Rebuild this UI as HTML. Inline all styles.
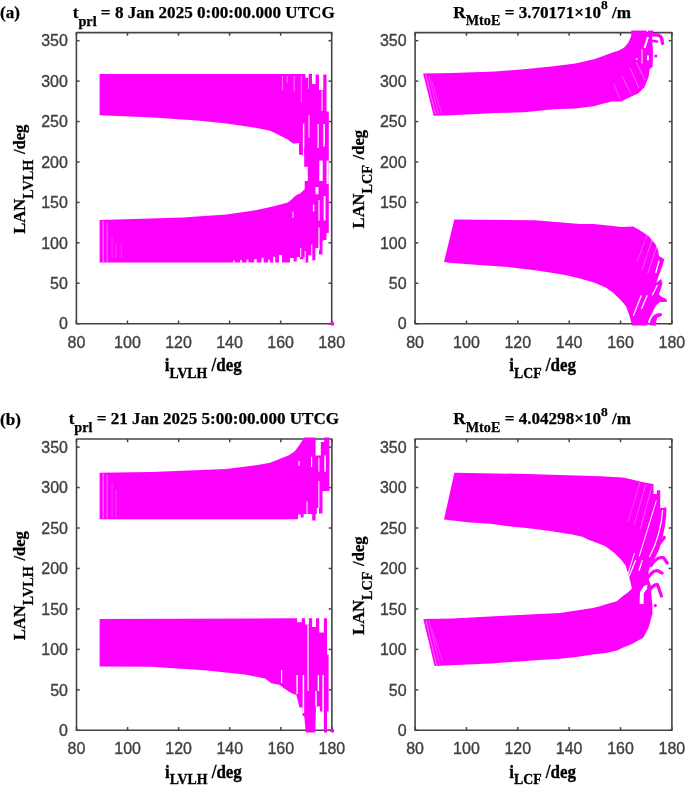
<!DOCTYPE html>
<html><head><meta charset="utf-8"><style>
html,body{margin:0;padding:0;background:#fff;}
body{width:685px;height:785px;overflow:hidden;}
svg{display:block;will-change:transform;filter:blur(0.35px);}
.tk{font-family:"Liberation Sans",sans-serif;font-size:16px;fill:#404040;stroke:#404040;stroke-width:0.35px;}
.lab{font-family:"Liberation Serif",serif;font-weight:bold;font-size:17px;fill:#000;stroke:#000;stroke-width:0.3px;}
.sub{font-size:13.8px;}
.ylab{font-size:16.6px;}
.ysub{font-size:14.2px;}
.ttl{font-family:"Liberation Serif",serif;font-weight:bold;font-size:17.1px;fill:#000;stroke:#000;stroke-width:0.25px;}
.tsub{font-size:14.2px;}
.tsup{font-size:13.5px;}
</style></head><body>
<svg width="685" height="785" viewBox="0 0 685 785">
<rect x="76.4" y="32.6" width="255.29999999999998" height="291.09999999999997" fill="none" stroke="#454545" stroke-width="1.6" stroke-linejoin="round"/>
<line x1="76.4" y1="323.7" x2="76.4" y2="320.5" stroke="#454545" stroke-width="1.5"/>
<line x1="76.4" y1="32.6" x2="76.4" y2="35.800000000000004" stroke="#454545" stroke-width="1.5"/>
<g transform="translate(0,347.7) scale(1,1.04) translate(0,-347.7)"><text x="76.4" y="347.7" class="tk" text-anchor="middle">80</text></g>
<line x1="127.46000000000001" y1="323.7" x2="127.46000000000001" y2="320.5" stroke="#454545" stroke-width="1.5"/>
<line x1="127.46000000000001" y1="32.6" x2="127.46000000000001" y2="35.800000000000004" stroke="#454545" stroke-width="1.5"/>
<g transform="translate(0,347.7) scale(1,1.04) translate(0,-347.7)"><text x="127.46000000000001" y="347.7" class="tk" text-anchor="middle">100</text></g>
<line x1="178.52" y1="323.7" x2="178.52" y2="320.5" stroke="#454545" stroke-width="1.5"/>
<line x1="178.52" y1="32.6" x2="178.52" y2="35.800000000000004" stroke="#454545" stroke-width="1.5"/>
<g transform="translate(0,347.7) scale(1,1.04) translate(0,-347.7)"><text x="178.52" y="347.7" class="tk" text-anchor="middle">120</text></g>
<line x1="229.57999999999998" y1="323.7" x2="229.57999999999998" y2="320.5" stroke="#454545" stroke-width="1.5"/>
<line x1="229.57999999999998" y1="32.6" x2="229.57999999999998" y2="35.800000000000004" stroke="#454545" stroke-width="1.5"/>
<g transform="translate(0,347.7) scale(1,1.04) translate(0,-347.7)"><text x="229.57999999999998" y="347.7" class="tk" text-anchor="middle">140</text></g>
<line x1="280.64" y1="323.7" x2="280.64" y2="320.5" stroke="#454545" stroke-width="1.5"/>
<line x1="280.64" y1="32.6" x2="280.64" y2="35.800000000000004" stroke="#454545" stroke-width="1.5"/>
<g transform="translate(0,347.7) scale(1,1.04) translate(0,-347.7)"><text x="280.64" y="347.7" class="tk" text-anchor="middle">160</text></g>
<line x1="331.7" y1="323.7" x2="331.7" y2="320.5" stroke="#454545" stroke-width="1.5"/>
<line x1="331.7" y1="32.6" x2="331.7" y2="35.800000000000004" stroke="#454545" stroke-width="1.5"/>
<g transform="translate(0,347.7) scale(1,1.04) translate(0,-347.7)"><text x="331.7" y="347.7" class="tk" text-anchor="middle">180</text></g>
<line x1="76.4" y1="323.7" x2="79.60000000000001" y2="323.7" stroke="#454545" stroke-width="1.5"/>
<line x1="331.7" y1="323.7" x2="328.5" y2="323.7" stroke="#454545" stroke-width="1.5"/>
<g transform="translate(0,329.5) scale(1,1.04) translate(0,-329.5)"><text x="67.9" y="329.5" class="tk" text-anchor="end">0</text></g>
<line x1="76.4" y1="283.26944444444445" x2="79.60000000000001" y2="283.26944444444445" stroke="#454545" stroke-width="1.5"/>
<line x1="331.7" y1="283.26944444444445" x2="328.5" y2="283.26944444444445" stroke="#454545" stroke-width="1.5"/>
<g transform="translate(0,289.06944444444446) scale(1,1.04) translate(0,-289.06944444444446)"><text x="67.9" y="289.06944444444446" class="tk" text-anchor="end">50</text></g>
<line x1="76.4" y1="242.8388888888889" x2="79.60000000000001" y2="242.8388888888889" stroke="#454545" stroke-width="1.5"/>
<line x1="331.7" y1="242.8388888888889" x2="328.5" y2="242.8388888888889" stroke="#454545" stroke-width="1.5"/>
<g transform="translate(0,248.6388888888889) scale(1,1.04) translate(0,-248.6388888888889)"><text x="67.9" y="248.6388888888889" class="tk" text-anchor="end">100</text></g>
<line x1="76.4" y1="202.40833333333333" x2="79.60000000000001" y2="202.40833333333333" stroke="#454545" stroke-width="1.5"/>
<line x1="331.7" y1="202.40833333333333" x2="328.5" y2="202.40833333333333" stroke="#454545" stroke-width="1.5"/>
<g transform="translate(0,208.20833333333334) scale(1,1.04) translate(0,-208.20833333333334)"><text x="67.9" y="208.20833333333334" class="tk" text-anchor="end">150</text></g>
<line x1="76.4" y1="161.9777777777778" x2="79.60000000000001" y2="161.9777777777778" stroke="#454545" stroke-width="1.5"/>
<line x1="331.7" y1="161.9777777777778" x2="328.5" y2="161.9777777777778" stroke="#454545" stroke-width="1.5"/>
<g transform="translate(0,167.7777777777778) scale(1,1.04) translate(0,-167.7777777777778)"><text x="67.9" y="167.7777777777778" class="tk" text-anchor="end">200</text></g>
<line x1="76.4" y1="121.54722222222225" x2="79.60000000000001" y2="121.54722222222225" stroke="#454545" stroke-width="1.5"/>
<line x1="331.7" y1="121.54722222222225" x2="328.5" y2="121.54722222222225" stroke="#454545" stroke-width="1.5"/>
<g transform="translate(0,127.34722222222224) scale(1,1.04) translate(0,-127.34722222222224)"><text x="67.9" y="127.34722222222224" class="tk" text-anchor="end">250</text></g>
<line x1="76.4" y1="81.11666666666667" x2="79.60000000000001" y2="81.11666666666667" stroke="#454545" stroke-width="1.5"/>
<line x1="331.7" y1="81.11666666666667" x2="328.5" y2="81.11666666666667" stroke="#454545" stroke-width="1.5"/>
<g transform="translate(0,86.91666666666667) scale(1,1.04) translate(0,-86.91666666666667)"><text x="67.9" y="86.91666666666667" class="tk" text-anchor="end">300</text></g>
<line x1="76.4" y1="40.68611111111113" x2="79.60000000000001" y2="40.68611111111113" stroke="#454545" stroke-width="1.5"/>
<line x1="331.7" y1="40.68611111111113" x2="328.5" y2="40.68611111111113" stroke="#454545" stroke-width="1.5"/>
<g transform="translate(0,46.48611111111113) scale(1,1.04) translate(0,-46.48611111111113)"><text x="67.9" y="46.48611111111113" class="tk" text-anchor="end">350</text></g>
<rect x="415.1" y="32.6" width="256.79999999999995" height="291.09999999999997" fill="none" stroke="#454545" stroke-width="1.6" stroke-linejoin="round"/>
<line x1="415.1" y1="323.7" x2="415.1" y2="320.5" stroke="#454545" stroke-width="1.5"/>
<line x1="415.1" y1="32.6" x2="415.1" y2="35.800000000000004" stroke="#454545" stroke-width="1.5"/>
<g transform="translate(0,347.7) scale(1,1.04) translate(0,-347.7)"><text x="415.1" y="347.7" class="tk" text-anchor="middle">80</text></g>
<line x1="466.46000000000004" y1="323.7" x2="466.46000000000004" y2="320.5" stroke="#454545" stroke-width="1.5"/>
<line x1="466.46000000000004" y1="32.6" x2="466.46000000000004" y2="35.800000000000004" stroke="#454545" stroke-width="1.5"/>
<g transform="translate(0,347.7) scale(1,1.04) translate(0,-347.7)"><text x="466.46000000000004" y="347.7" class="tk" text-anchor="middle">100</text></g>
<line x1="517.82" y1="323.7" x2="517.82" y2="320.5" stroke="#454545" stroke-width="1.5"/>
<line x1="517.82" y1="32.6" x2="517.82" y2="35.800000000000004" stroke="#454545" stroke-width="1.5"/>
<g transform="translate(0,347.7) scale(1,1.04) translate(0,-347.7)"><text x="517.82" y="347.7" class="tk" text-anchor="middle">120</text></g>
<line x1="569.18" y1="323.7" x2="569.18" y2="320.5" stroke="#454545" stroke-width="1.5"/>
<line x1="569.18" y1="32.6" x2="569.18" y2="35.800000000000004" stroke="#454545" stroke-width="1.5"/>
<g transform="translate(0,347.7) scale(1,1.04) translate(0,-347.7)"><text x="569.18" y="347.7" class="tk" text-anchor="middle">140</text></g>
<line x1="620.54" y1="323.7" x2="620.54" y2="320.5" stroke="#454545" stroke-width="1.5"/>
<line x1="620.54" y1="32.6" x2="620.54" y2="35.800000000000004" stroke="#454545" stroke-width="1.5"/>
<g transform="translate(0,347.7) scale(1,1.04) translate(0,-347.7)"><text x="620.54" y="347.7" class="tk" text-anchor="middle">160</text></g>
<line x1="671.9" y1="323.7" x2="671.9" y2="320.5" stroke="#454545" stroke-width="1.5"/>
<line x1="671.9" y1="32.6" x2="671.9" y2="35.800000000000004" stroke="#454545" stroke-width="1.5"/>
<g transform="translate(0,347.7) scale(1,1.04) translate(0,-347.7)"><text x="671.9" y="347.7" class="tk" text-anchor="middle">180</text></g>
<line x1="415.1" y1="323.7" x2="418.3" y2="323.7" stroke="#454545" stroke-width="1.5"/>
<line x1="671.9" y1="323.7" x2="668.6999999999999" y2="323.7" stroke="#454545" stroke-width="1.5"/>
<g transform="translate(0,329.5) scale(1,1.04) translate(0,-329.5)"><text x="406.6" y="329.5" class="tk" text-anchor="end">0</text></g>
<line x1="415.1" y1="283.26944444444445" x2="418.3" y2="283.26944444444445" stroke="#454545" stroke-width="1.5"/>
<line x1="671.9" y1="283.26944444444445" x2="668.6999999999999" y2="283.26944444444445" stroke="#454545" stroke-width="1.5"/>
<g transform="translate(0,289.06944444444446) scale(1,1.04) translate(0,-289.06944444444446)"><text x="406.6" y="289.06944444444446" class="tk" text-anchor="end">50</text></g>
<line x1="415.1" y1="242.8388888888889" x2="418.3" y2="242.8388888888889" stroke="#454545" stroke-width="1.5"/>
<line x1="671.9" y1="242.8388888888889" x2="668.6999999999999" y2="242.8388888888889" stroke="#454545" stroke-width="1.5"/>
<g transform="translate(0,248.6388888888889) scale(1,1.04) translate(0,-248.6388888888889)"><text x="406.6" y="248.6388888888889" class="tk" text-anchor="end">100</text></g>
<line x1="415.1" y1="202.40833333333333" x2="418.3" y2="202.40833333333333" stroke="#454545" stroke-width="1.5"/>
<line x1="671.9" y1="202.40833333333333" x2="668.6999999999999" y2="202.40833333333333" stroke="#454545" stroke-width="1.5"/>
<g transform="translate(0,208.20833333333334) scale(1,1.04) translate(0,-208.20833333333334)"><text x="406.6" y="208.20833333333334" class="tk" text-anchor="end">150</text></g>
<line x1="415.1" y1="161.9777777777778" x2="418.3" y2="161.9777777777778" stroke="#454545" stroke-width="1.5"/>
<line x1="671.9" y1="161.9777777777778" x2="668.6999999999999" y2="161.9777777777778" stroke="#454545" stroke-width="1.5"/>
<g transform="translate(0,167.7777777777778) scale(1,1.04) translate(0,-167.7777777777778)"><text x="406.6" y="167.7777777777778" class="tk" text-anchor="end">200</text></g>
<line x1="415.1" y1="121.54722222222225" x2="418.3" y2="121.54722222222225" stroke="#454545" stroke-width="1.5"/>
<line x1="671.9" y1="121.54722222222225" x2="668.6999999999999" y2="121.54722222222225" stroke="#454545" stroke-width="1.5"/>
<g transform="translate(0,127.34722222222224) scale(1,1.04) translate(0,-127.34722222222224)"><text x="406.6" y="127.34722222222224" class="tk" text-anchor="end">250</text></g>
<line x1="415.1" y1="81.11666666666667" x2="418.3" y2="81.11666666666667" stroke="#454545" stroke-width="1.5"/>
<line x1="671.9" y1="81.11666666666667" x2="668.6999999999999" y2="81.11666666666667" stroke="#454545" stroke-width="1.5"/>
<g transform="translate(0,86.91666666666667) scale(1,1.04) translate(0,-86.91666666666667)"><text x="406.6" y="86.91666666666667" class="tk" text-anchor="end">300</text></g>
<line x1="415.1" y1="40.68611111111113" x2="418.3" y2="40.68611111111113" stroke="#454545" stroke-width="1.5"/>
<line x1="671.9" y1="40.68611111111113" x2="668.6999999999999" y2="40.68611111111113" stroke="#454545" stroke-width="1.5"/>
<g transform="translate(0,46.48611111111113) scale(1,1.04) translate(0,-46.48611111111113)"><text x="406.6" y="46.48611111111113" class="tk" text-anchor="end">350</text></g>
<rect x="76.5" y="439.0" width="255.39999999999998" height="291.29999999999995" fill="none" stroke="#454545" stroke-width="1.6" stroke-linejoin="round"/>
<line x1="76.5" y1="730.3" x2="76.5" y2="727.0999999999999" stroke="#454545" stroke-width="1.5"/>
<line x1="76.5" y1="439.0" x2="76.5" y2="442.2" stroke="#454545" stroke-width="1.5"/>
<g transform="translate(0,754.3) scale(1,1.04) translate(0,-754.3)"><text x="76.5" y="754.3" class="tk" text-anchor="middle">80</text></g>
<line x1="127.58" y1="730.3" x2="127.58" y2="727.0999999999999" stroke="#454545" stroke-width="1.5"/>
<line x1="127.58" y1="439.0" x2="127.58" y2="442.2" stroke="#454545" stroke-width="1.5"/>
<g transform="translate(0,754.3) scale(1,1.04) translate(0,-754.3)"><text x="127.58" y="754.3" class="tk" text-anchor="middle">100</text></g>
<line x1="178.66" y1="730.3" x2="178.66" y2="727.0999999999999" stroke="#454545" stroke-width="1.5"/>
<line x1="178.66" y1="439.0" x2="178.66" y2="442.2" stroke="#454545" stroke-width="1.5"/>
<g transform="translate(0,754.3) scale(1,1.04) translate(0,-754.3)"><text x="178.66" y="754.3" class="tk" text-anchor="middle">120</text></g>
<line x1="229.73999999999998" y1="730.3" x2="229.73999999999998" y2="727.0999999999999" stroke="#454545" stroke-width="1.5"/>
<line x1="229.73999999999998" y1="439.0" x2="229.73999999999998" y2="442.2" stroke="#454545" stroke-width="1.5"/>
<g transform="translate(0,754.3) scale(1,1.04) translate(0,-754.3)"><text x="229.73999999999998" y="754.3" class="tk" text-anchor="middle">140</text></g>
<line x1="280.82" y1="730.3" x2="280.82" y2="727.0999999999999" stroke="#454545" stroke-width="1.5"/>
<line x1="280.82" y1="439.0" x2="280.82" y2="442.2" stroke="#454545" stroke-width="1.5"/>
<g transform="translate(0,754.3) scale(1,1.04) translate(0,-754.3)"><text x="280.82" y="754.3" class="tk" text-anchor="middle">160</text></g>
<line x1="331.9" y1="730.3" x2="331.9" y2="727.0999999999999" stroke="#454545" stroke-width="1.5"/>
<line x1="331.9" y1="439.0" x2="331.9" y2="442.2" stroke="#454545" stroke-width="1.5"/>
<g transform="translate(0,754.3) scale(1,1.04) translate(0,-754.3)"><text x="331.9" y="754.3" class="tk" text-anchor="middle">180</text></g>
<line x1="76.5" y1="730.3" x2="79.7" y2="730.3" stroke="#454545" stroke-width="1.5"/>
<line x1="331.9" y1="730.3" x2="328.7" y2="730.3" stroke="#454545" stroke-width="1.5"/>
<g transform="translate(0,736.0999999999999) scale(1,1.04) translate(0,-736.0999999999999)"><text x="68.0" y="736.0999999999999" class="tk" text-anchor="end">0</text></g>
<line x1="76.5" y1="689.8416666666666" x2="79.7" y2="689.8416666666666" stroke="#454545" stroke-width="1.5"/>
<line x1="331.9" y1="689.8416666666666" x2="328.7" y2="689.8416666666666" stroke="#454545" stroke-width="1.5"/>
<g transform="translate(0,695.6416666666665) scale(1,1.04) translate(0,-695.6416666666665)"><text x="68.0" y="695.6416666666665" class="tk" text-anchor="end">50</text></g>
<line x1="76.5" y1="649.3833333333333" x2="79.7" y2="649.3833333333333" stroke="#454545" stroke-width="1.5"/>
<line x1="331.9" y1="649.3833333333333" x2="328.7" y2="649.3833333333333" stroke="#454545" stroke-width="1.5"/>
<g transform="translate(0,655.1833333333333) scale(1,1.04) translate(0,-655.1833333333333)"><text x="68.0" y="655.1833333333333" class="tk" text-anchor="end">100</text></g>
<line x1="76.5" y1="608.925" x2="79.7" y2="608.925" stroke="#454545" stroke-width="1.5"/>
<line x1="331.9" y1="608.925" x2="328.7" y2="608.925" stroke="#454545" stroke-width="1.5"/>
<g transform="translate(0,614.7249999999999) scale(1,1.04) translate(0,-614.7249999999999)"><text x="68.0" y="614.7249999999999" class="tk" text-anchor="end">150</text></g>
<line x1="76.5" y1="568.4666666666667" x2="79.7" y2="568.4666666666667" stroke="#454545" stroke-width="1.5"/>
<line x1="331.9" y1="568.4666666666667" x2="328.7" y2="568.4666666666667" stroke="#454545" stroke-width="1.5"/>
<g transform="translate(0,574.2666666666667) scale(1,1.04) translate(0,-574.2666666666667)"><text x="68.0" y="574.2666666666667" class="tk" text-anchor="end">200</text></g>
<line x1="76.5" y1="528.0083333333333" x2="79.7" y2="528.0083333333333" stroke="#454545" stroke-width="1.5"/>
<line x1="331.9" y1="528.0083333333333" x2="328.7" y2="528.0083333333333" stroke="#454545" stroke-width="1.5"/>
<g transform="translate(0,533.8083333333333) scale(1,1.04) translate(0,-533.8083333333333)"><text x="68.0" y="533.8083333333333" class="tk" text-anchor="end">250</text></g>
<line x1="76.5" y1="487.54999999999995" x2="79.7" y2="487.54999999999995" stroke="#454545" stroke-width="1.5"/>
<line x1="331.9" y1="487.54999999999995" x2="328.7" y2="487.54999999999995" stroke="#454545" stroke-width="1.5"/>
<g transform="translate(0,493.34999999999997) scale(1,1.04) translate(0,-493.34999999999997)"><text x="68.0" y="493.34999999999997" class="tk" text-anchor="end">300</text></g>
<line x1="76.5" y1="447.0916666666667" x2="79.7" y2="447.0916666666667" stroke="#454545" stroke-width="1.5"/>
<line x1="331.9" y1="447.0916666666667" x2="328.7" y2="447.0916666666667" stroke="#454545" stroke-width="1.5"/>
<g transform="translate(0,452.8916666666667) scale(1,1.04) translate(0,-452.8916666666667)"><text x="68.0" y="452.8916666666667" class="tk" text-anchor="end">350</text></g>
<rect x="415.1" y="439.0" width="256.79999999999995" height="291.29999999999995" fill="none" stroke="#454545" stroke-width="1.6" stroke-linejoin="round"/>
<line x1="415.1" y1="730.3" x2="415.1" y2="727.0999999999999" stroke="#454545" stroke-width="1.5"/>
<line x1="415.1" y1="439.0" x2="415.1" y2="442.2" stroke="#454545" stroke-width="1.5"/>
<g transform="translate(0,754.3) scale(1,1.04) translate(0,-754.3)"><text x="415.1" y="754.3" class="tk" text-anchor="middle">80</text></g>
<line x1="466.46000000000004" y1="730.3" x2="466.46000000000004" y2="727.0999999999999" stroke="#454545" stroke-width="1.5"/>
<line x1="466.46000000000004" y1="439.0" x2="466.46000000000004" y2="442.2" stroke="#454545" stroke-width="1.5"/>
<g transform="translate(0,754.3) scale(1,1.04) translate(0,-754.3)"><text x="466.46000000000004" y="754.3" class="tk" text-anchor="middle">100</text></g>
<line x1="517.82" y1="730.3" x2="517.82" y2="727.0999999999999" stroke="#454545" stroke-width="1.5"/>
<line x1="517.82" y1="439.0" x2="517.82" y2="442.2" stroke="#454545" stroke-width="1.5"/>
<g transform="translate(0,754.3) scale(1,1.04) translate(0,-754.3)"><text x="517.82" y="754.3" class="tk" text-anchor="middle">120</text></g>
<line x1="569.18" y1="730.3" x2="569.18" y2="727.0999999999999" stroke="#454545" stroke-width="1.5"/>
<line x1="569.18" y1="439.0" x2="569.18" y2="442.2" stroke="#454545" stroke-width="1.5"/>
<g transform="translate(0,754.3) scale(1,1.04) translate(0,-754.3)"><text x="569.18" y="754.3" class="tk" text-anchor="middle">140</text></g>
<line x1="620.54" y1="730.3" x2="620.54" y2="727.0999999999999" stroke="#454545" stroke-width="1.5"/>
<line x1="620.54" y1="439.0" x2="620.54" y2="442.2" stroke="#454545" stroke-width="1.5"/>
<g transform="translate(0,754.3) scale(1,1.04) translate(0,-754.3)"><text x="620.54" y="754.3" class="tk" text-anchor="middle">160</text></g>
<line x1="671.9" y1="730.3" x2="671.9" y2="727.0999999999999" stroke="#454545" stroke-width="1.5"/>
<line x1="671.9" y1="439.0" x2="671.9" y2="442.2" stroke="#454545" stroke-width="1.5"/>
<g transform="translate(0,754.3) scale(1,1.04) translate(0,-754.3)"><text x="671.9" y="754.3" class="tk" text-anchor="middle">180</text></g>
<line x1="415.1" y1="730.3" x2="418.3" y2="730.3" stroke="#454545" stroke-width="1.5"/>
<line x1="671.9" y1="730.3" x2="668.6999999999999" y2="730.3" stroke="#454545" stroke-width="1.5"/>
<g transform="translate(0,736.0999999999999) scale(1,1.04) translate(0,-736.0999999999999)"><text x="406.6" y="736.0999999999999" class="tk" text-anchor="end">0</text></g>
<line x1="415.1" y1="689.8416666666666" x2="418.3" y2="689.8416666666666" stroke="#454545" stroke-width="1.5"/>
<line x1="671.9" y1="689.8416666666666" x2="668.6999999999999" y2="689.8416666666666" stroke="#454545" stroke-width="1.5"/>
<g transform="translate(0,695.6416666666665) scale(1,1.04) translate(0,-695.6416666666665)"><text x="406.6" y="695.6416666666665" class="tk" text-anchor="end">50</text></g>
<line x1="415.1" y1="649.3833333333333" x2="418.3" y2="649.3833333333333" stroke="#454545" stroke-width="1.5"/>
<line x1="671.9" y1="649.3833333333333" x2="668.6999999999999" y2="649.3833333333333" stroke="#454545" stroke-width="1.5"/>
<g transform="translate(0,655.1833333333333) scale(1,1.04) translate(0,-655.1833333333333)"><text x="406.6" y="655.1833333333333" class="tk" text-anchor="end">100</text></g>
<line x1="415.1" y1="608.925" x2="418.3" y2="608.925" stroke="#454545" stroke-width="1.5"/>
<line x1="671.9" y1="608.925" x2="668.6999999999999" y2="608.925" stroke="#454545" stroke-width="1.5"/>
<g transform="translate(0,614.7249999999999) scale(1,1.04) translate(0,-614.7249999999999)"><text x="406.6" y="614.7249999999999" class="tk" text-anchor="end">150</text></g>
<line x1="415.1" y1="568.4666666666667" x2="418.3" y2="568.4666666666667" stroke="#454545" stroke-width="1.5"/>
<line x1="671.9" y1="568.4666666666667" x2="668.6999999999999" y2="568.4666666666667" stroke="#454545" stroke-width="1.5"/>
<g transform="translate(0,574.2666666666667) scale(1,1.04) translate(0,-574.2666666666667)"><text x="406.6" y="574.2666666666667" class="tk" text-anchor="end">200</text></g>
<line x1="415.1" y1="528.0083333333333" x2="418.3" y2="528.0083333333333" stroke="#454545" stroke-width="1.5"/>
<line x1="671.9" y1="528.0083333333333" x2="668.6999999999999" y2="528.0083333333333" stroke="#454545" stroke-width="1.5"/>
<g transform="translate(0,533.8083333333333) scale(1,1.04) translate(0,-533.8083333333333)"><text x="406.6" y="533.8083333333333" class="tk" text-anchor="end">250</text></g>
<line x1="415.1" y1="487.54999999999995" x2="418.3" y2="487.54999999999995" stroke="#454545" stroke-width="1.5"/>
<line x1="671.9" y1="487.54999999999995" x2="668.6999999999999" y2="487.54999999999995" stroke="#454545" stroke-width="1.5"/>
<g transform="translate(0,493.34999999999997) scale(1,1.04) translate(0,-493.34999999999997)"><text x="406.6" y="493.34999999999997" class="tk" text-anchor="end">300</text></g>
<line x1="415.1" y1="447.0916666666667" x2="418.3" y2="447.0916666666667" stroke="#454545" stroke-width="1.5"/>
<line x1="671.9" y1="447.0916666666667" x2="668.6999999999999" y2="447.0916666666667" stroke="#454545" stroke-width="1.5"/>
<g transform="translate(0,452.8916666666667) scale(1,1.04) translate(0,-452.8916666666667)"><text x="406.6" y="452.8916666666667" class="tk" text-anchor="end">350</text></g>
<g fill="#ff00ff"><polygon points="99.6,74.0 305.4,74.0 305.4,77.8 308.6,77.8 308.6,74.0 312.0,74.0 312.0,84.0 315.6,84.0 315.6,74.5 319.0,74.5 319.0,90.0 323.3,90.0 323.3,74.5 326.5,74.5 326.5,111.5 328.8,111.5 328.8,233.0 326.5,233.0 326.5,240.1 323.4,240.1 323.4,241.0 322.5,241.0 322.5,254.4 319.0,254.4 319.0,248.0 315.4,248.0 315.4,260.2 311.8,260.2 311.8,255.3 308.3,255.3 308.3,262.4 304.7,262.4 304.7,257.0 303.4,257.0 303.4,259.3 299.8,259.3 299.8,257.0 296.7,257.0 296.7,261.5 293.6,261.5 293.6,258.0 290.0,258.0 290.0,262.5 200.0,262.5 99.6,262.5 99.6,220.0 151.0,218.5 182.6,217.5 226.4,214.6 255.6,210.2 276.0,205.8 287.7,202.5 291.0,200.0 294.5,196.5 297.4,194.5 300.1,193.5 304.7,189.2 304.7,181.0 307.8,181.0 307.8,166.7 304.2,166.7 304.2,155.5 299.0,154.5 299.0,143.0 297.7,143.0 293.5,143.8 287.7,139.4 279.0,135.0 270.2,130.7 255.6,127.7 226.4,123.4 197.2,120.4 153.4,117.5 99.6,115.2"/>
<line x1="303.5" y1="124" x2="303.5" y2="155" stroke="#fff" stroke-width="1.2" stroke-opacity="1"/>
<line x1="318.1" y1="124" x2="318.1" y2="148" stroke="#fff" stroke-width="1.2" stroke-opacity="1"/>
<line x1="324.1" y1="124" x2="324.1" y2="146.6" stroke="#fff" stroke-width="1.6" stroke-opacity="1"/>
<line x1="309" y1="115" x2="309" y2="137.7" stroke="#fff" stroke-width="1" stroke-opacity="1"/>
<line x1="322" y1="90.5" x2="322" y2="111" stroke="#fff" stroke-width="1" stroke-opacity="1"/>
<line x1="321" y1="160.6" x2="321" y2="181" stroke="#fff" stroke-width="3.5" stroke-opacity="1"/>
<line x1="327.6" y1="160.6" x2="327.6" y2="184" stroke="#fff" stroke-width="2.2" stroke-opacity="1"/>
<line x1="324.6" y1="196" x2="324.6" y2="220.5" stroke="#fff" stroke-width="1.8" stroke-opacity="1"/>
<line x1="319" y1="200" x2="319" y2="220.5" stroke="#fff" stroke-width="1.2" stroke-opacity="1"/>
<line x1="319" y1="227.6" x2="319" y2="250" stroke="#fff" stroke-width="1.2" stroke-opacity="1"/>
<line x1="313.6" y1="204.5" x2="313.6" y2="211.6" stroke="#fff" stroke-width="1.5" stroke-opacity="1"/>
<line x1="317" y1="187" x2="317" y2="194.3" stroke="#fff" stroke-width="3" stroke-opacity="1"/>
<line x1="293" y1="211.6" x2="293" y2="217.8" stroke="#fff" stroke-width="1" stroke-opacity="1"/>
<line x1="300.7" y1="248" x2="300.7" y2="257" stroke="#fff" stroke-width="1" stroke-opacity="1"/>
<line x1="305.2" y1="251" x2="305.2" y2="262" stroke="#fff" stroke-width="1" stroke-opacity="1"/>
<line x1="311.8" y1="244.5" x2="311.8" y2="260" stroke="#fff" stroke-width="1" stroke-opacity="1"/>
<line x1="282.5" y1="76" x2="282.5" y2="90" stroke="#fff" stroke-width="1" stroke-opacity="0.45"/>
<line x1="287.1" y1="76" x2="287.1" y2="83" stroke="#fff" stroke-width="1" stroke-opacity="0.4"/>
<line x1="294.2" y1="76" x2="294.2" y2="91.4" stroke="#fff" stroke-width="1" stroke-opacity="0.5"/>
<line x1="301.3" y1="76" x2="301.3" y2="102.6" stroke="#fff" stroke-width="1" stroke-opacity="0.5"/>
<line x1="308.5" y1="76" x2="308.5" y2="89" stroke="#fff" stroke-width="1" stroke-opacity="0.5"/>
<line x1="303.9" y1="123" x2="303.9" y2="148" stroke="#fff" stroke-width="1" stroke-opacity="0.6"/>
<line x1="103.2" y1="221" x2="103.2" y2="262" stroke="#fff" stroke-width="1.1" stroke-opacity="0.5"/>
<line x1="107.1" y1="222" x2="107.1" y2="261.5" stroke="#fff" stroke-width="0.9" stroke-opacity="0.45"/>
<line x1="112" y1="237" x2="112" y2="258" stroke="#fff" stroke-width="0.8" stroke-opacity="0.35"/>
<line x1="116" y1="244" x2="116" y2="258" stroke="#fff" stroke-width="0.8" stroke-opacity="0.3"/>
<line x1="121.3" y1="243" x2="121.3" y2="258" stroke="#fff" stroke-width="0.8" stroke-opacity="0.25"/>
<line x1="255.4" y1="259.2" x2="255.4" y2="263.5" stroke="#fff" stroke-width="2.6" stroke-opacity="1"/>
<line x1="262.6" y1="257.8" x2="262.6" y2="263.5" stroke="#fff" stroke-width="2.0" stroke-opacity="1"/>
<line x1="268.9" y1="259.7" x2="268.9" y2="263.5" stroke="#fff" stroke-width="1.5" stroke-opacity="1"/>
<line x1="274.2" y1="256.8" x2="274.2" y2="263.5" stroke="#fff" stroke-width="2.0" stroke-opacity="1"/>
<line x1="280.5" y1="254.9" x2="280.5" y2="263.5" stroke="#fff" stroke-width="3.0" stroke-opacity="1"/>
<line x1="241" y1="260" x2="241" y2="263.5" stroke="#fff" stroke-width="2.0" stroke-opacity="0.8"/>
<line x1="247.5" y1="259.5" x2="247.5" y2="263.5" stroke="#fff" stroke-width="2.0" stroke-opacity="0.8"/>
<line x1="234" y1="260.5" x2="234" y2="263.5" stroke="#fff" stroke-width="2.0" stroke-opacity="0.7"/>
<circle cx="332.3" cy="323.8" r="2" fill="#ff00ff"/></g>
<g fill="#ff00ff"><polygon points="423.1,73.6 452.2,73.0 495.0,71.4 524.2,69.2 553.4,66.3 575.3,63.4 595.0,59.0 613.2,52.3 619.0,50.4 624.2,47.4 628.3,42.8 631.2,36.0 631.2,30.6 646.5,30.6 647.2,33.5 648.3,30.4 653.3,30.4 652.0,40.0 653.0,50.0 652.7,66.7 649.7,69.0 648.6,77.0 644.6,87.0 638.5,93.3 627.2,98.4 621.0,101.4 611.7,101.5 599.8,104.5 595.0,106.0 575.3,108.6 553.4,109.3 524.2,112.3 495.0,113.0 452.2,115.2 433.6,115.8"/>
<polygon points="454.3,219.6 535.0,220.3 580.0,224.1 594.0,224.1 608.0,225.5 622.0,226.9 633.2,226.5 640.2,230.4 648.6,236.0 655.6,244.4 658.0,250.0 659.0,256.0 664.4,259.2 661.0,270.0 656.0,283.0 661.0,279.0 662.4,282.9 661.5,287.0 658.9,294.5 662.0,297.0 666.9,299.5 666.5,302.0 660.0,302.0 656.0,305.4 652.3,312.7 648.7,320.0 647.2,325.6 631.9,325.6 629.7,316.4 626.0,306.2 620.9,300.3 613.0,292.5 605.7,287.5 594.0,282.5 580.0,278.5 565.0,275.0 554.6,273.2 540.0,271.0 535.0,270.2 508.0,267.0 478.8,264.9 449.6,262.7 444.0,261.9"/>
<polygon points="649.5,325.6 650.5,320.0 653.0,316.0 656.0,313.8 660.0,313.0 662.2,313.8 661.5,316.0 657.5,317.5 656.3,321.0 656.0,325.6"/>
<line x1="659" y1="260.6" x2="655.7" y2="273.2" stroke="#fff" stroke-width="1.3" stroke-opacity="1"/>
<line x1="657.4" y1="285" x2="652.3" y2="295.2" stroke="#fff" stroke-width="1.2" stroke-opacity="1"/>
<line x1="641.4" y1="295.2" x2="633.3" y2="315.7" stroke="#fff" stroke-width="1.2" stroke-opacity="1"/>
<line x1="647.2" y1="295.2" x2="641.4" y2="309.1" stroke="#fff" stroke-width="1.2" stroke-opacity="1"/>
<line x1="648" y1="37" x2="644.5" y2="48" stroke="#fff" stroke-width="2" stroke-opacity="1"/>
<line x1="642" y1="49.4" x2="642" y2="63.7" stroke="#fff" stroke-width="1" stroke-opacity="1"/>
<line x1="425.8" y1="75" x2="435.6" y2="114.5" stroke="#fff" stroke-width="1.0" stroke-opacity="0.4"/>
<line x1="428.8" y1="76" x2="438.5" y2="114" stroke="#fff" stroke-width="0.9" stroke-opacity="0.3"/>
<line x1="432" y1="82" x2="441.5" y2="113.5" stroke="#fff" stroke-width="0.9" stroke-opacity="0.25"/>
<line x1="656.7" y1="246.8" x2="647.7" y2="273.6" stroke="#fff" stroke-width="1.0" stroke-opacity="0.4"/>
<line x1="652" y1="240" x2="642" y2="270" stroke="#fff" stroke-width="1.0" stroke-opacity="0.35"/>
<line x1="647" y1="235" x2="637" y2="262" stroke="#fff" stroke-width="1.0" stroke-opacity="0.3"/>
<line x1="636" y1="62" x2="645" y2="80" stroke="#fff" stroke-width="1.0" stroke-opacity="0.4"/>
<line x1="630" y1="68" x2="639" y2="88" stroke="#fff" stroke-width="1.0" stroke-opacity="0.4"/>
<line x1="622" y1="76" x2="631" y2="94" stroke="#fff" stroke-width="1.0" stroke-opacity="0.35"/>
<line x1="614" y1="84" x2="620" y2="99" stroke="#fff" stroke-width="1.0" stroke-opacity="0.3"/>
<path d="M653.7,35 Q659.5,34 661.5,38 L662.6,43.5" fill="none" stroke="#ff00ff" stroke-width="3.3" stroke-linecap="round"/><circle cx="655.8" cy="56" r="1.6" fill="#ff00ff"/><path d="M650.5,40.5 L657,41.5" stroke="#ff00ff" stroke-width="2.6" stroke-linecap="round"/><circle cx="636.7" cy="58.9" r="0.9" fill="#fff"/><rect x="647" y="55.5" width="2" height="4.8" fill="#fff"/></g>
<g fill="#ff00ff"><polygon points="99.6,472.8 151.0,472.0 226.0,469.0 256.0,465.3 270.0,462.8 282.0,458.0 289.4,455.0 295.0,451.0 299.6,444.7 304.2,437.5 315.6,437.5 315.6,455.6 320.8,455.6 320.8,441.9 324.2,441.9 324.2,437.5 329.4,437.5 329.4,491.0 322.5,491.0 322.5,513.5 319.0,513.5 319.0,508.0 316.8,508.0 316.8,514.0 315.6,514.0 315.6,520.4 312.2,520.4 312.2,514.0 303.6,514.0 303.6,517.5 300.7,517.5 300.7,514.5 298.0,514.5 298.0,519.2 151.0,519.3 99.6,519.3"/>
<polygon points="99.6,619.0 294.7,618.3 297.1,618.3 297.1,622.3 301.8,622.3 301.8,618.3 305.0,618.3 305.0,624.6 308.9,624.6 308.9,618.3 312.1,618.3 312.1,627.0 316.0,627.0 316.0,618.3 319.2,618.3 319.2,632.5 323.9,632.5 323.9,618.3 327.0,618.3 327.0,654.6 328.6,654.6 328.6,711.4 327.0,711.4 327.0,732.5 323.9,732.5 323.9,711.4 320.0,711.4 320.0,706.6 316.0,706.6 315.2,732.5 305.8,732.5 304.2,716.0 302.6,716.0 302.6,707.4 299.5,707.4 296.3,694.8 293.2,694.0 289.5,692.0 285.7,689.5 279.3,684.8 271.4,683.2 265.0,678.4 244.9,674.6 207.3,670.5 151.0,666.8 99.6,666.5"/>
<line x1="311.6" y1="456.8" x2="311.6" y2="467" stroke="#fff" stroke-width="1.2" stroke-opacity="1"/>
<line x1="325.1" y1="455.6" x2="325.1" y2="471.7" stroke="#fff" stroke-width="1.6" stroke-opacity="1"/>
<line x1="318.9" y1="458" x2="318.9" y2="471.7" stroke="#fff" stroke-width="1" stroke-opacity="1"/>
<line x1="318.9" y1="481" x2="318.9" y2="508" stroke="#fff" stroke-width="1" stroke-opacity="1"/>
<line x1="299" y1="461" x2="299" y2="466" stroke="#fff" stroke-width="1.2" stroke-opacity="1"/>
<line x1="307" y1="501.5" x2="307" y2="514" stroke="#fff" stroke-width="1" stroke-opacity="1"/>
<line x1="308" y1="624.6" x2="308" y2="690.9" stroke="#fff" stroke-width="1.2" stroke-opacity="1"/>
<line x1="297.1" y1="675" x2="297.1" y2="694" stroke="#fff" stroke-width="1.4" stroke-opacity="1"/>
<line x1="303.4" y1="675" x2="303.4" y2="713" stroke="#fff" stroke-width="1.5" stroke-opacity="1"/>
<line x1="316" y1="691" x2="316" y2="706.6" stroke="#fff" stroke-width="1.5" stroke-opacity="1"/>
<line x1="318.4" y1="675" x2="318.4" y2="691" stroke="#fff" stroke-width="1.4" stroke-opacity="1"/>
<line x1="323.1" y1="675" x2="323.1" y2="711.4" stroke="#fff" stroke-width="1.5" stroke-opacity="1"/>
<line x1="281.6" y1="670" x2="281.6" y2="683" stroke="#fff" stroke-width="1.2" stroke-opacity="1"/>
<line x1="103.2" y1="473.5" x2="103.2" y2="518.4" stroke="#fff" stroke-width="1.1" stroke-opacity="0.5"/>
<line x1="107.1" y1="475" x2="107.1" y2="518.4" stroke="#fff" stroke-width="0.9" stroke-opacity="0.45"/>
<line x1="112" y1="483" x2="112" y2="518" stroke="#fff" stroke-width="0.8" stroke-opacity="0.35"/>
<line x1="116" y1="490" x2="116" y2="518" stroke="#fff" stroke-width="0.8" stroke-opacity="0.3"/>
<circle cx="332.3" cy="730.8" r="2" fill="#ff00ff"/></g>
<g fill="#ff00ff"><polygon points="454.4,472.8 527.6,473.9 583.9,475.8 600.0,476.3 622.9,477.5 631.0,479.2 637.8,480.9 644.7,482.6 651.6,483.8 653.5,484.0 653.5,494.0 657.0,494.0 657.0,490.3 660.2,490.3 660.2,508.0 663.4,508.0 663.4,507.4 666.4,507.4 666.2,516.0 664.5,528.0 662.0,540.0 658.5,551.0 654.5,559.0 650.5,564.0 648.5,572.0 649.0,580.0 651.0,586.0 651.5,596.0 652.4,606.0 652.4,614.0 648.5,628.0 643.4,637.4 632.0,644.0 622.1,648.0 617.2,650.5 605.8,653.0 592.7,654.6 576.4,657.0 560.0,658.7 546.3,659.5 490.0,663.4 434.5,666.0 423.3,619.0 452.5,618.4 508.8,615.4 560.0,612.9 576.4,610.4 592.7,608.0 600.1,606.3 607.7,603.7 616.7,601.2 623.0,596.1 628.1,592.3 632.0,588.4 628.8,575.7 625.6,565.5 620.5,559.1 614.1,552.7 609.0,549.0 604.9,545.9 596.7,542.8 588.5,539.7 582.4,536.7 572.2,534.6 551.7,531.2 531.3,528.5 510.9,526.5 490.4,523.8 470.0,522.4 444.0,519.5"/>
<line x1="656.4" y1="500.5" x2="639.2" y2="556.5" stroke="#fff" stroke-width="1.0" stroke-opacity="1"/>
<line x1="634.5" y1="553" x2="628" y2="574" stroke="#fff" stroke-width="1.0" stroke-opacity="1"/>
<line x1="652" y1="486" x2="640" y2="530" stroke="#fff" stroke-width="0.9" stroke-opacity="0.4"/>
<line x1="646" y1="484" x2="634" y2="525" stroke="#fff" stroke-width="0.9" stroke-opacity="0.35"/>
<line x1="640" y1="482" x2="628" y2="522" stroke="#fff" stroke-width="0.9" stroke-opacity="0.3"/>
<line x1="635.7" y1="560" x2="629" y2="576.5" stroke="#fff" stroke-width="1.2" stroke-opacity="1"/>
<line x1="642.3" y1="560" x2="639" y2="570.8" stroke="#fff" stroke-width="1.2" stroke-opacity="1"/>
<line x1="654" y1="560" x2="650.6" y2="565.8" stroke="#fff" stroke-width="1.2" stroke-opacity="1"/>
<line x1="426" y1="620.5" x2="436.6" y2="665.5" stroke="#fff" stroke-width="1.0" stroke-opacity="0.4"/>
<line x1="429" y1="621" x2="439.5" y2="664.5" stroke="#fff" stroke-width="0.9" stroke-opacity="0.3"/>
<line x1="432" y1="629" x2="442.5" y2="661.5" stroke="#fff" stroke-width="0.9" stroke-opacity="0.25"/>
<g fill="none" stroke="#ff00ff" stroke-width="3.2" stroke-linecap="round"><path d="M664.3,537.5 L654.3,550"/><path d="M651.1,565.5 Q657,556 663.8,557.8 L667.2,563"/><path d="M648.5,577 Q653,570 657.5,570.6 L662.2,573.1"/><path d="M651.1,588.4 Q654,584 657.5,584.6 L661.5,596.1"/></g><circle cx="655.3" cy="605.6" r="1.6" fill="#ff00ff"/><polygon fill="#fff" points="640,592 644,586 647.5,584.5 647,589 643.8,593 643.5,604 639.5,604"/><path d="M662.6,510 Q661,535 649.4,557" fill="none" stroke="#fff" stroke-width="1.2"/></g>
<text transform="translate(25.200000000000003,179.15) rotate(-90)" class="lab ylab" text-anchor="middle">LAN<tspan class="ysub" dy="7.6">LVLH</tspan><tspan dy="-7.6" dx="1.5"> /deg</tspan></text>
<text transform="translate(25.299999999999997,585.65) rotate(-90)" class="lab ylab" text-anchor="middle">LAN<tspan class="ysub" dy="7.6">LVLH</tspan><tspan dy="-7.6" dx="1.5"> /deg</tspan></text>
<text transform="translate(363.90000000000003,179.15) rotate(-90)" class="lab ylab" text-anchor="middle">LAN<tspan class="ysub" dy="7.6">LCF</tspan><tspan dy="-7.6" dx="1.5"> /deg</tspan></text>
<text transform="translate(363.90000000000003,585.65) rotate(-90)" class="lab ylab" text-anchor="middle">LAN<tspan class="ysub" dy="7.6">LCF</tspan><tspan dy="-7.6" dx="1.5"> /deg</tspan></text>
<g transform="translate(0,371.0) scale(1,1.05) translate(0,-371.0)"><text x="203.25" y="371.0" class="lab" text-anchor="middle">i<tspan class="sub" dy="6.4">LVLH</tspan><tspan dy="-6.4"> /deg</tspan></text></g>
<g transform="translate(0,777.5999999999999) scale(1,1.05) translate(0,-777.5999999999999)"><text x="203.39999999999998" y="777.5999999999999" class="lab" text-anchor="middle">i<tspan class="sub" dy="6.4">LVLH</tspan><tspan dy="-6.4"> /deg</tspan></text></g>
<g transform="translate(0,371.0) scale(1,1.05) translate(0,-371.0)"><text x="542.7" y="371.0" class="lab" text-anchor="middle">i<tspan class="sub" dy="6.4">LCF</tspan><tspan dy="-6.4"> /deg</tspan></text></g>
<g transform="translate(0,777.5999999999999) scale(1,1.05) translate(0,-777.5999999999999)"><text x="542.7" y="777.5999999999999" class="lab" text-anchor="middle">i<tspan class="sub" dy="6.4">LCF</tspan><tspan dy="-6.4"> /deg</tspan></text></g>
<g transform="translate(0,17.9) scale(1,1.0) translate(0,-17.9)"><text x="0" y="17.9" class="ttl">(a)</text></g>
<g transform="translate(0,424.9) scale(1,1.0) translate(0,-424.9)"><text x="0" y="424.9" class="ttl">(b)</text></g>
<g transform="translate(0,17.6) scale(1,1.0) translate(0,-17.6)"><text x="203.75" y="17.6" class="ttl" text-anchor="middle">t<tspan class="tsub" dy="7.9">prl</tspan><tspan dy="-7.9"> = 8 Jan 2025 0:00:00.000 UTCG</tspan></text></g>
<g transform="translate(0,424.4) scale(1,1.0) translate(0,-424.4)"><text x="203.89999999999998" y="424.4" class="ttl" text-anchor="middle">t<tspan class="tsub" dy="7.9">prl</tspan><tspan dy="-7.9"> = 21 Jan 2025 5:00:00.000 UTCG</tspan></text></g>
<g transform="translate(0,17.6) scale(1,1.0) translate(0,-17.6)"><text x="542.2" y="17.6" class="ttl" text-anchor="middle">R<tspan class="tsub" dy="7.7">MtoE</tspan><tspan dy="-7.7"> = 3.70171×10</tspan><tspan class="tsup" dy="-8.6">8</tspan><tspan dy="8.6"> /m</tspan></text></g>
<g transform="translate(0,424.4) scale(1,1.0) translate(0,-424.4)"><text x="542.2" y="424.4" class="ttl" text-anchor="middle">R<tspan class="tsub" dy="7.7">MtoE</tspan><tspan dy="-7.7"> = 4.04298×10</tspan><tspan class="tsup" dy="-8.6">8</tspan><tspan dy="8.6"> /m</tspan></text></g>
</svg>
</body></html>
